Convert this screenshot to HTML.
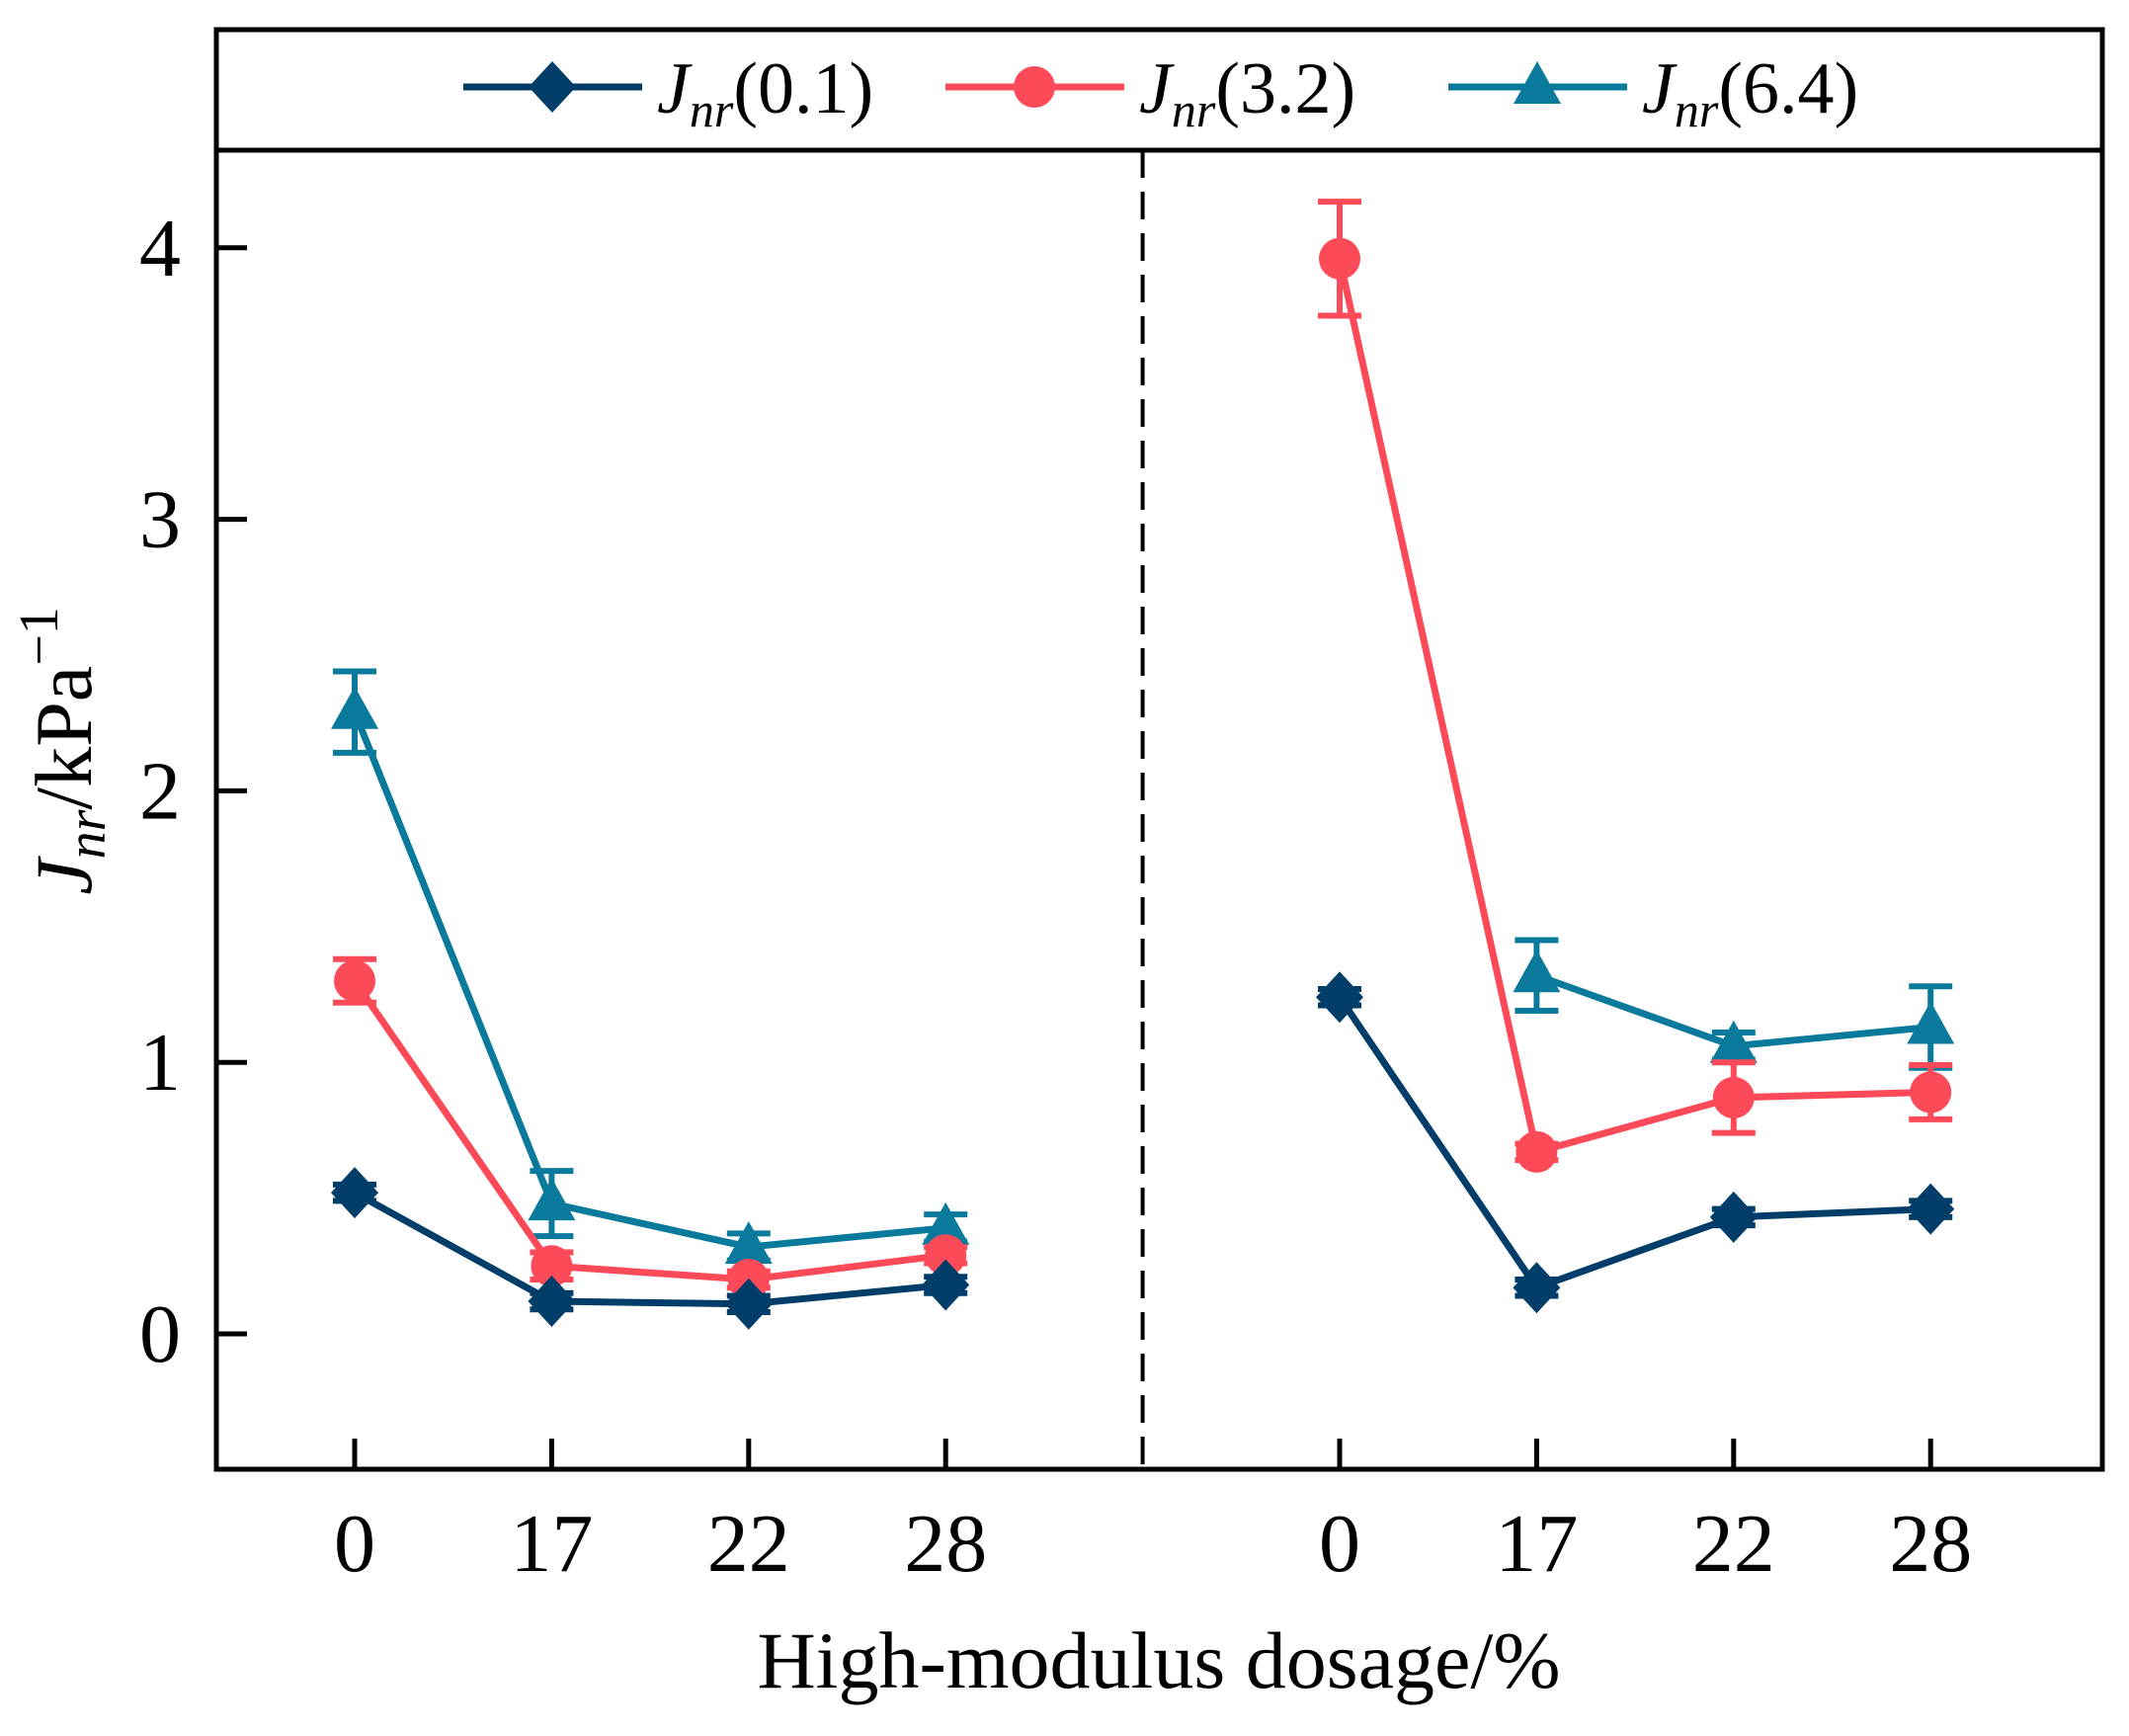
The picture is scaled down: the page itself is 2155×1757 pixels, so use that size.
<!DOCTYPE html>
<html><head><meta charset="utf-8"><style>
html,body{margin:0;padding:0;background:#fff;}
svg{display:block;font-family:"Liberation Serif",serif;}
</style></head><body>
<svg id="chart" width="2155" height="1757" viewBox="0 0 2155 1757" xmlns="http://www.w3.org/2000/svg">
<g id="axes"></g>
<g id="series"></g>
<g id="legend"></g>
</svg>
<script>
const categories = ["0","17","22","28","","0","17","22","28"];
const yTicks = [0,1,2,3,4];
const jnr01 = [0.52,0.12,0.11,0.18,null,1.24,0.17,0.43,0.46];
const jnr01Err = [0.03,0.03,0.03,0.03,null,0.03,0.03,0.03,0.03];
const jnr32 = [1.30,0.25,0.20,0.29,null,3.96,0.67,0.87,0.89];
const jnr32Err = [0.08,0.05,0.03,0.03,null,0.21,0.03,0.13,0.10];
const jnr64 = [2.29,0.48,0.32,0.39,null,null,1.32,1.06,1.13];
const jnr64Err = [0.15,0.12,0.05,0.05,null,null,0.13,0.05,0.15];

const NS="http://www.w3.org/2000/svg";
const L=219,R=2128,T=30,SEP=152,B=1487;
function x(i){return 359+199.4*i;}
function y(v){return 1350-274.8*v;}
function mk(tag,attrs,parent){const e=document.createElementNS(NS,tag);for(const k in attrs)e.setAttribute(k,attrs[k]);parent.appendChild(e);return e;}
const axes=document.getElementById('axes');
const ser=document.getElementById('series');
const leg=document.getElementById('legend');

let e=mk('rect',{x:L,y:T,width:R-L,height:B-T,fill:'none',stroke:'#000','stroke-width':5},axes);


e=mk('line',{x1:L,x2:R,y1:SEP,y2:SEP,stroke:'#000','stroke-width':5},axes);


e=mk('line',{x1:x(4),x2:x(4),y1:SEP,y2:B,stroke:'#000','stroke-width':4,'stroke-dasharray':'28,14'},axes);



yTicks.forEach(v=>{
  let t=mk('line',{x1:L,x2:L+31,y1:y(v),y2:y(v),stroke:'#000','stroke-width':5},axes);
  
  
  let lb=mk('text',{x:183,y:y(v)+28,'text-anchor':'end','font-size':84},axes);
  lb.textContent=v;
  
  
});
categories.forEach((c,i)=>{
  if(c==="")return;
  let t=mk('line',{x1:x(i),x2:x(i),y1:B,y2:B-31,stroke:'#000','stroke-width':5},axes);
  
  
  let lb=mk('text',{x:x(i),y:1590,'text-anchor':'middle','font-size':84},axes);
  lb.textContent=c;
  
  
});
let xt=mk('text',{x:1173,y:1708,'text-anchor':'middle','font-size':82},axes);
xt.textContent='High-modulus dosage/%';


let yt=mk('text',{x:0,y:0,'text-anchor':'middle','font-size':82,transform:'translate(92,760) rotate(-90)'},axes);
yt.innerHTML='<tspan font-style="italic">J</tspan><tspan font-style="italic" font-size="56" dy="14">nr</tspan><tspan dy="-14">/kPa</tspan><tspan font-size="56" dy="-34">−1</tspan>';



function marker(shape,cx,cy,color,parent){
  let m;
  if(shape==='diamond')m=mk('polygon',{points:`${cx},${cy-26} ${cx+24},${cy} ${cx},${cy+26} ${cx-24},${cy}`,fill:color},parent);
  else if(shape==='circle')m=mk('circle',{cx:cx,cy:cy,r:21,fill:color},parent);
  else m=mk('polygon',{points:`${cx},${cy-26} ${cx+24},${cy+17} ${cx-24},${cy+17}`,fill:color},parent);
  return m;
}
function drawSeries(vals,errs,color,shape,name){
  const g=mk('g',{},ser);
  
  
  let segs=[[0,1,2,3],[5,6,7,8]];
  segs.forEach(s=>{
    const pts=s.filter(i=>vals[i]!=null).map(i=>x(i)+','+y(vals[i])).join(' ');
    let pl=mk('polyline',{points:pts,fill:'none',stroke:color,'stroke-width':7},g);
    
    
  });
  vals.forEach((v,i)=>{
    if(v==null)return;
    const er=errs[i];
    let eb=mk('path',{d:`M${x(i)},${y(v-er)}V${y(v+er)}M${x(i)-22},${y(v+er)}H${x(i)+22}M${x(i)-22},${y(v-er)}H${x(i)+22}`,stroke:color,'stroke-width':6,fill:'none'},g);
    
    
    let m=marker(shape,x(i),y(v),color,g);
    
    
  });
}
drawSeries(jnr64,jnr64Err,'#0a7a9c','triangle','jnr-6-4');
drawSeries(jnr32,jnr32Err,'#fd4a58','circle','jnr-3-2');
drawSeries(jnr01,jnr01Err,'#003e69','diamond','jnr-0-1');

const legendItems=[["0.1",'#003e69','diamond',469],["3.2",'#fd4a58','circle',957],["6.4",'#0a7a9c','triangle',1466]];
legendItems.forEach(it=>{
  const g=mk('g',{},leg);
  
  
  mk('line',{x1:it[3],x2:it[3]+181,y1:88,y2:88,stroke:it[1],'stroke-width':7},g);
  marker(it[2],it[3]+90,88,it[1],g);
  const t=mk('text',{x:it[3]+196,y:114,'font-size':74},g);
  t.innerHTML='<tspan font-style="italic">J</tspan><tspan font-style="italic" font-size="50" dy="14">nr</tspan><tspan dy="-14">('+it[0]+')</tspan>';
});
</script>
</body></html>
